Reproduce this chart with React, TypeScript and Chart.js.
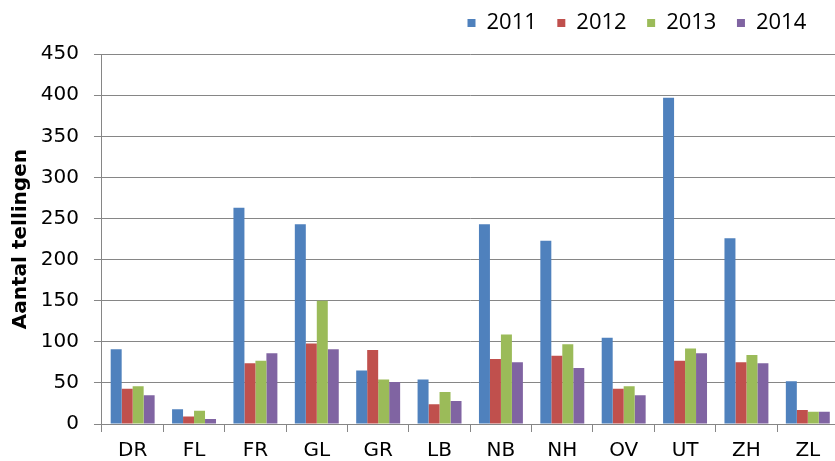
import React, { useEffect, useRef } from "react";
import { Chart, registerables } from "chart.js";

Chart.register(...registerables);

const categories = ["DR", "FL", "FR", "GL", "GR", "LB", "NB", "NH", "OV", "UT", "ZH", "ZL"];
const seriesLabels = ["2011", "2012", "2013", "2014"];
const values2011 = [91, 18, 263, 243, 65, 54, 243, 223, 105, 397, 226, 52];
const values2012 = [43, 9, 74, 98, 90, 24, 79, 83, 43, 77, 75, 17];
const values2013 = [46, 16, 77, 150, 54, 39, 109, 97, 46, 92, 84, 15];
const values2014 = [35, 6, 86, 91, 51, 28, 75, 68, 35, 86, 74, 15];
const seriesColors = ["#4F81BD", "#C0504D", "#9BBB59", "#8064A2"];
const yMin = 0;
const yMax = 450;
const yStep = 50;
const yTitle = "Aantal tellingen";

export default function App() {
  const ref = useRef<HTMLCanvasElement>(null);

  useEffect(() => {
    if (!ref.current) return;
    const allValues = [values2011, values2012, values2013, values2014];
    const legendShift = {
      id: "legendShift",
      afterLayout(chart: any) {
        const lg = chart.legend;
        if (lg) {
          const w = lg.width;
          const h = lg.height;
          lg.left = 447;
          lg.right = 447 + w;
          lg.top = -8.5;
          lg.bottom = -8.5 + h;
        }
      },
    };
    const chart = new Chart(ref.current, {
      type: "bar",
      data: {
        labels: categories,
        datasets: seriesLabels.map((label, i) => ({
          label,
          data: allValues[i],
          backgroundColor: seriesColors[i],
          borderWidth: 0,
          categoryPercentage: 0.716,
          barPercentage: 1,
        })),
      },
      options: {
        responsive: false,
        animation: false,
        devicePixelRatio: 1,
        layout: { padding: { left: 0, right: 6.5, top: 1.7, bottom: -9 } },
        plugins: {
          legend: {
            position: "top",
            align: "start",
            labels: {
              boxWidth: 8,
              boxHeight: 8,
              padding: 20.5,
              color: "#000",
              font: { family: "'Open Sans', sans-serif", size: 22 },
            },
          },
          tooltip: { enabled: false },
        },
        scales: {
          x: {
            grid: { offset: true, drawOnChartArea: false, tickLength: 8, color: "#868686" },
            border: { color: "#868686" },
            ticks: {
              color: "#000",
              font: { family: "'DejaVu Sans', sans-serif", size: 20 },
              padding: 7,
              maxRotation: 0,
              autoSkip: false,
            },
          },
          y: {
            min: yMin,
            max: yMax,
            ticks: {
              stepSize: yStep,
              color: "#000",
              font: { family: "'DejaVu Sans', sans-serif", size: 20 },
              padding: 15,
            },
            grid: { color: "#868686", tickLength: 8 },
            border: { color: "#868686" },
            title: {
              display: true,
              text: yTitle,
              color: "#000",
              font: { family: "'DejaVu Sans', sans-serif", size: 20, weight: "bold" },
              padding: { top: 8.6, bottom: -6.8 },
            },
          },
        },
      },
      plugins: [legendShift],
    });
    return () => chart.destroy();
  }, []);

  return (
    <div
      style={{
        position: "fixed",
        left: 0,
        top: 0,
        width: 835,
        height: 461,
        overflow: "hidden",
        background: "#fff",
      }}
    >
      <canvas ref={ref} width={845} height={461} style={{ display: "block", width: 845, height: 461 }} />
    </div>
  );
}
